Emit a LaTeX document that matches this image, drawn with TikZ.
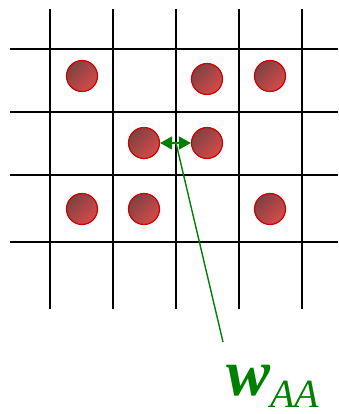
\documentclass[tikz,border=0pt]{standalone}
\usepackage{fontspec}
\setmainfont{Liberation Serif}
\usetikzlibrary{arrows.meta}
\definecolor{gr}{RGB}{0,128,0}
\definecolor{rimred}{RGB}{204,0,0}
\definecolor{ballhi}{RGB}{214,74,74}
\definecolor{balllo}{RGB}{128,66,66}
\begin{document}
\begin{tikzpicture}[x=1pt,y=-1pt,
  gridline/.style={line width=1.4pt,black},
  ball/.style={circle,draw=rimred,line width=1.2pt,minimum size=31pt,inner sep=0pt,
    left color=balllo,right color=ballhi,shading angle=45},
  link/.style={gr,line width=1.4pt}]
\useasboundingbox (0,0) rectangle (338,414);
% grid
\foreach \x in {50,113,176,239,302} \draw[gridline] (\x,9) -- (\x,309);
\foreach \y in {49,112,175,242} \draw[gridline] (10,\y) -- (338,\y);
% balls
\node[ball] (b1) at (82,76) {};
\node[ball] (b2) at (207,79) {};
\node[ball] (b3) at (270,76) {};
\node[ball] (b4) at (144,143) {};
\node[ball] (b5) at (207,143) {};
\node[ball] (b6) at (82,209) {};
\node[ball] (b7) at (144,209) {};
\node[ball] (b8) at (270,209) {};
% arrow
\draw[link,{Triangle[length=12pt,width=13pt]}-{Triangle[length=12pt,width=13pt]}] (b4.east) -- (b5.west);
\coordinate (mid) at (176,143);
\node[gr,inner sep=0pt,anchor=base west] (lab) at (226,395)
  {\fontsize{66}{66}\selectfont\bfseries\itshape w\fontsize{40}{40}\selectfont\mdseries\raisebox{-12pt}{AA}};
\coordinate (tail) at (223,342);
\draw[link] (mid) -- (tail);
\end{tikzpicture}
\end{document}
